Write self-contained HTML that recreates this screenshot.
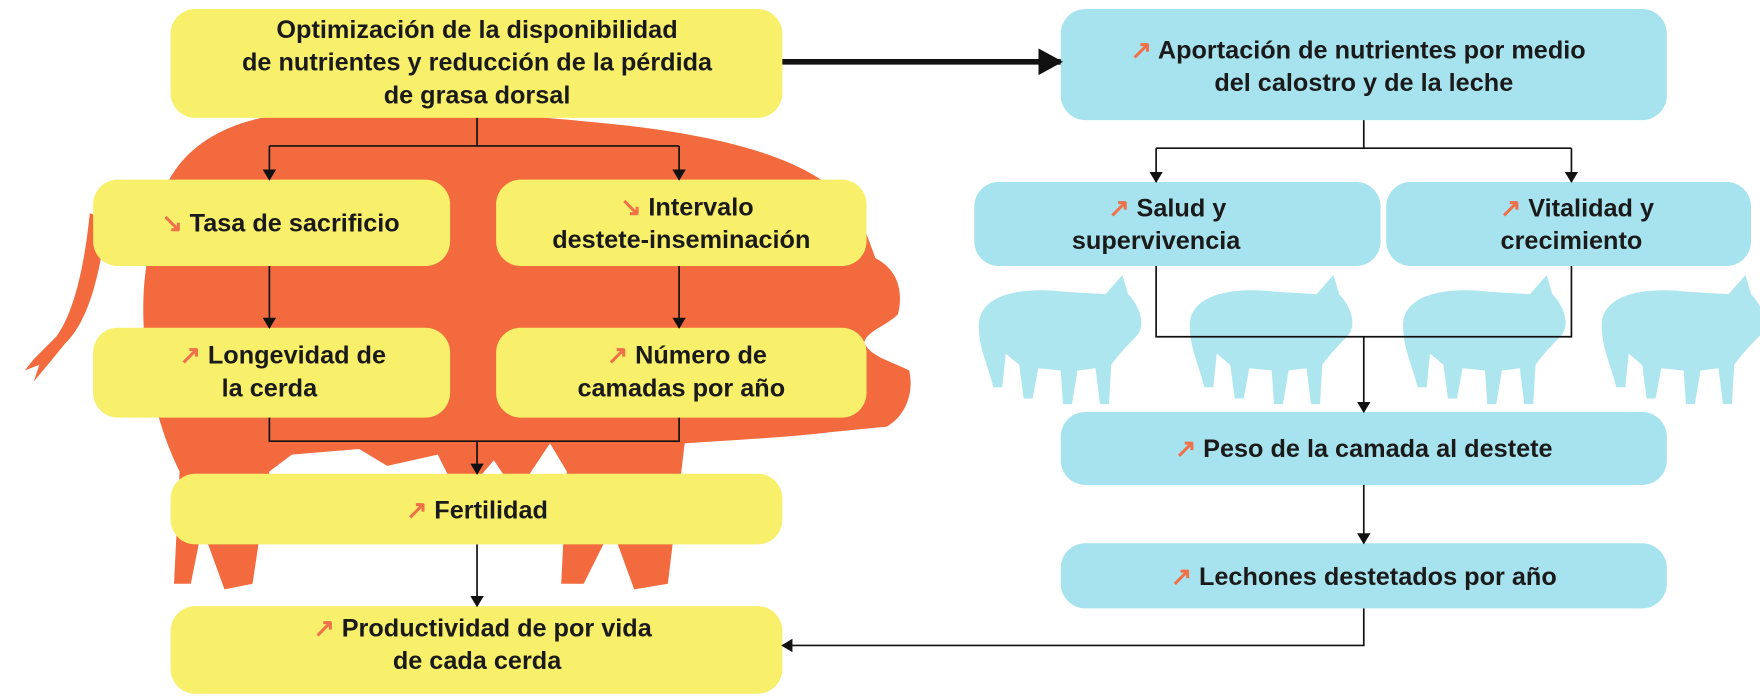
<!DOCTYPE html>
<html><head><meta charset="utf-8"><style>
body{margin:0;background:#fff;}
svg{display:block}
text{font-family:"Liberation Sans",sans-serif;font-weight:bold;font-size:22.5px;fill:#1a1a1a;}
.a{fill:#f0704a;}
</style></head><body>
<svg width="1760" height="696" viewBox="0 0 1568 620" xmlns="http://www.w3.org/2000/svg">
<defs>
<marker id="m" markerWidth="10" markerHeight="12" refX="9" refY="6" orient="auto" markerUnits="userSpaceOnUse"><path d="M0,0 L10,6 L0,12 Z" fill="#111"/></marker>
<marker id="mb" markerWidth="22" markerHeight="24" refX="20" refY="12" orient="auto" markerUnits="userSpaceOnUse"><path d="M0,0 L22,12 L0,24 Z" fill="#111"/></marker>
</defs>
<!-- sow silhouette -->
<path fill="#f26a3e" d="M140,190 C150,140 190,110 250,102 C340,94 450,100 560,112 C660,124 730,145 765,190 L780,230 C800,240 805,260 800,280 C790,290 772,295 770,305 C775,318 795,322 810,330 C815,352 805,372 790,380 L740,385 C700,390 650,392 610,395 L595,520 L565,525 L545,470 L520,520 L500,520 L505,420 L490,395 L460,440 L440,410 L410,445 L390,405 L345,415 L320,400 L260,405 L240,420 L225,520 L200,525 L180,470 L170,520 L155,520 L160,420 C140,380 125,320 128,260 C130,230 135,210 140,190 Z"/>
<path fill="#f26a3e" d="M80,190 C75,240 65,280 50,300 L30,320 L22,330 L35,325 L30,340 L45,322 L58,306 C80,285 90,240 95,195 Z"/>
<!-- piglets -->
<g fill="#aee6f0">
<g id="pg"><path d="M872,290 C872,262 910,255 950,260 L985,262 L1000,245 L1005,262 C1015,272 1022,290 1012,300 C1002,310 995,318 990,325 L988,360 L980,360 L976,328 L960,330 L955,360 L947,360 L945,330 L925,328 L920,355 L912,355 L908,325 L896,315 L893,345 L885,345 C880,325 872,310 872,290 Z"/></g>
<use href="#pg" x="188"/><use href="#pg" x="378"/><use href="#pg" x="555"/>
</g>
<!-- yellow boxes -->
<g fill="#f8ef6a">
<rect x="152" y="8" width="545" height="97" rx="22"/>
<rect x="83" y="160" width="318" height="77" rx="22"/>
<rect x="442" y="160" width="330" height="77" rx="22"/>
<rect x="83" y="292" width="318" height="80" rx="22"/>
<rect x="442" y="292" width="330" height="80" rx="22"/>
<rect x="152" y="422" width="545" height="63" rx="22"/>
<rect x="152" y="540" width="545" height="78" rx="22"/>
</g>
<g fill="#a7e3ee">
<rect x="945" y="8" width="540" height="99" rx="22"/>
<rect x="868" y="162" width="362" height="75" rx="22"/>
<rect x="1235" y="162" width="325" height="75" rx="22"/>
<rect x="945" y="367" width="540" height="65" rx="22"/>
<rect x="945" y="484" width="540" height="58" rx="22"/>
</g>
<!-- connectors -->
<g stroke="#111" stroke-width="1.5" fill="none">
<path d="M697,55 H945" stroke-width="5" marker-end="url(#mb)"/>
<path d="M425,105 V130 M240,130 H605"/>
<path d="M240,130 V160" marker-end="url(#m)"/><path d="M605,130 V160" marker-end="url(#m)"/>
<path d="M240,237 V292" marker-end="url(#m)"/><path d="M605,237 V292" marker-end="url(#m)"/>
<path d="M240,372 V393 H605 V372"/><path d="M425,393 V422" marker-end="url(#m)"/>
<path d="M425,485 V540" marker-end="url(#m)"/>
<path d="M1215,107 V132 M1030,132 H1400"/>
<path d="M1030,132 V162" marker-end="url(#m)"/><path d="M1400,132 V162" marker-end="url(#m)"/>
<path d="M1030,237 V300 H1400 V237"/><path d="M1215,300 V367" marker-end="url(#m)"/>
<path d="M1215,432 V484" marker-end="url(#m)"/>
<path d="M1215,542 V575 H697" marker-end="url(#m)"/>
</g>
<!-- text -->
<g text-anchor="middle">
<text x="425" y="34">Optimización de la disponibilidad</text>
<text x="425" y="63">de nutrientes y reducción de la pérdida</text>
<text x="425" y="92">de grasa dorsal</text>
<text x="250" y="206"><tspan class="a">↘</tspan> Tasa de sacrificio</text>
<text x="612" y="192"><tspan class="a">↘</tspan> Intervalo</text>
<text x="607" y="221">destete-inseminación</text>
<text x="252" y="324"><tspan class="a">↗</tspan> Longevidad de</text>
<text x="240" y="353">la cerda</text>
<text x="612" y="324"><tspan class="a">↗</tspan> Número de</text>
<text x="607" y="353">camadas por año</text>
<text x="425" y="462"><tspan class="a">↗</tspan> Fertilidad</text>
<text x="430" y="567"><tspan class="a">↗</tspan> Productividad de por vida</text>
<text x="425" y="596">de cada cerda</text>
<text x="1210" y="52"><tspan class="a">↗</tspan> Aportación de nutrientes por medio</text>
<text x="1215" y="81">del calostro y de la leche</text>
<text x="1040" y="193"><tspan class="a">↗</tspan> Salud y</text>
<text x="1030" y="222">supervivencia</text>
<text x="1405" y="193"><tspan class="a">↗</tspan> Vitalidad y</text>
<text x="1400" y="222">crecimiento</text>
<text x="1215" y="407"><tspan class="a">↗</tspan> Peso de la camada al destete</text>
<text x="1215" y="521"><tspan class="a">↗</tspan> Lechones destetados por año</text>
</g>
</svg>
</body></html>
